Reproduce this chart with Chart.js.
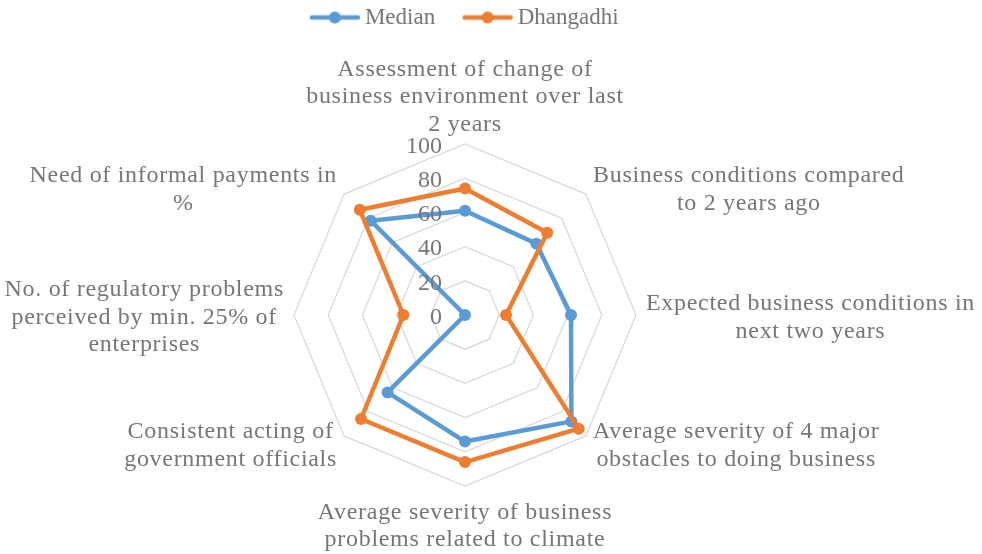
<!DOCTYPE html>
<html>
<head>
<meta charset="utf-8">
<script src="https://cdn.jsdelivr.net/npm/chart.js@4.4.0/dist/chart.umd.min.js"></script>
<style>
  html, body { margin: 0; padding: 0; background: #fff; }
  #wrap { width: 982px; height: 554px; }
</style>
</head>
<body>
<div id="wrap"><canvas id="chart"></canvas></div>
<script>
// --- data ---
const categories = [
  ['Assessment of change of', 'business environment over last', '2 years'],
  ['Business conditions compared', 'to 2 years ago'],
  ['Expected business conditions in', 'next two years'],
  ['Average severity of 4 major', 'obstacles to doing business'],
  ['Average severity of business', 'problems related to climate'],
  ['Consistent acting of', 'government officials'],
  ['No. of regulatory problems', 'perceived by min. 25% of', 'enterprises'],
  ['Need of informal payments in', '%']
];
const seriesNames = ['Median', 'Dhangadhi'];
const medianValues = [61, 59, 62, 88, 74, 64, 0, 78];
const dhangadhiValues = [74, 68, 24, 94, 86, 86, 36, 87];
const tickValues = [0, 20, 40, 60, 80, 100];

// --- look ---
const colors = ['#5b9bd5', '#ed7d31'];
const textColor = '#767676';
const fontFamily = '"Liberation Serif", serif';
const fontSize = 24;
const lineH = 27.5;
const spacing = '0.7px';
const CX = 465, CY = 315, RADIUS = 171;   // radar placement
const LABEL_GAP = 10;
const TEXT_DY = 2.5;

function legendIcon(color) {
  const c = document.createElement('canvas');
  c.width = 52; c.height = 14;
  const g = c.getContext('2d');
  g.strokeStyle = color; g.lineWidth = 4.5; g.lineCap = 'round';
  g.beginPath(); g.moveTo(3, 7); g.lineTo(49, 7); g.stroke();
  g.fillStyle = color;
  g.beginPath(); g.arc(26, 7, 6, 0, Math.PI * 2); g.fill();
  return c;
}
const icons = colors.map(legendIcon);

// point labels + tick labels, drawn the way the spreadsheet does it
const excelLabels = {
  id: 'excelLabels',
  afterDatasetsDraw(chart) {
    const s = chart.scales.r, ctx = chart.ctx;
    ctx.save();
    ctx.letterSpacing = spacing;
    ctx.font = fontSize + 'px ' + fontFamily;
    ctx.fillStyle = textColor;
    ctx.textAlign = 'center';
    ctx.textBaseline = 'middle';
    categories.forEach((lines, i) => {
      const p = s.getPointPosition(i, s.drawingArea + LABEL_GAP);
      const w = Math.max(...lines.map(l => ctx.measureText(l).width));
      const h = lines.length * lineH;
      const dx = p.x - s.xCenter, dy = p.y - s.yCenter;
      let cx, top;
      if (Math.abs(dx) < 1) {
        cx = p.x;
        top = dy < 0 ? p.y - h + 1.5 : p.y;
      } else {
        cx = dx > 0 ? p.x + w / 2 : p.x - w / 2;
        top = p.y - h / 2;
      }
      lines.forEach((l, k) => ctx.fillText(l, cx, top + TEXT_DY + lineH * (k + 0.5)));
    });
    ctx.letterSpacing = '0px';
    ctx.textAlign = 'right';
    s.ticks.forEach(t => {
      const r = s.getDistanceFromCenterForValue(t.value);
      ctx.fillText(String(t.value), s.xCenter - 23, s.yCenter - r + TEXT_DY);
    });
    ctx.restore();
  }
};

new Chart(document.getElementById('chart'), {
  type: 'radar',
  data: {
    labels: categories,
    datasets: [
      { label: seriesNames[0], data: medianValues, order: 1 },
      { label: seriesNames[1], data: dhangadhiValues, order: 0 }
    ].map((d, i) => Object.assign(d, {
      borderColor: colors[i],
      backgroundColor: colors[i],
      pointBackgroundColor: colors[i],
      pointBorderWidth: 0,
      pointRadius: 6,
      borderWidth: 4.5,
      borderJoinStyle: 'round',
      fill: false,
      clip: false
    }))
  },
  options: {
    responsive: true,
    maintainAspectRatio: false,
    animation: false,
    layout: { padding: { top: -28, left: 0, right: 47 } },
    plugins: {
      tooltip: { enabled: false },
      legend: {
        position: 'top',
        labels: {
          usePointStyle: true,
          pointStyleWidth: 37,
          padding: 34,
          color: textColor,
          font: { family: fontFamily, size: 23 },
          sort: (a, b) => a.datasetIndex - b.datasetIndex,
          generateLabels(chart) {
            const items = Chart.defaults.plugins.legend.labels.generateLabels(chart);
            items.forEach(it => { it.pointStyle = icons[it.datasetIndex]; });
            return items;
          }
        }
      }
    },
    scales: {
      r: {
        min: tickValues[0],
        max: tickValues[tickValues.length - 1],
        ticks: { stepSize: tickValues[1] - tickValues[0], display: false },
        grid: { color: '#d9d9d9', lineWidth: 1.3 },
        angleLines: { display: false },
        pointLabels: { display: false },
        afterFit(scale) {
          scale.xCenter = CX;
          scale.yCenter = CY;
          scale.drawingArea = RADIUS;
        }
      }
    }
  },
  plugins: [excelLabels]
});
</script>
</body>
</html>
